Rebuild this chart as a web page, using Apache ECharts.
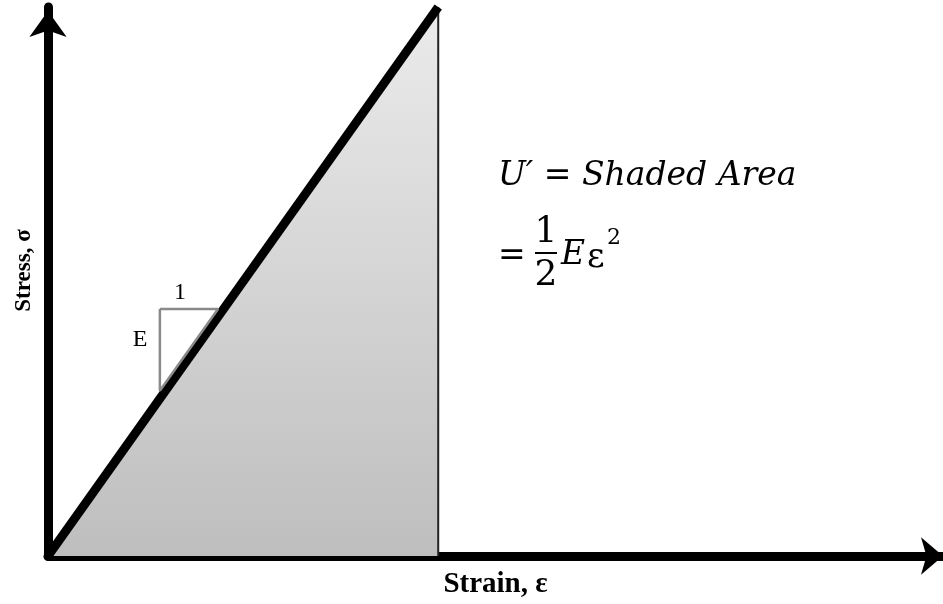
<!DOCTYPE html>
<html>
<head>
<meta charset="utf-8">
<script src="https://cdn.jsdelivr.net/npm/echarts@6/dist/echarts.min.js"></script>
<style>
  html, body { margin: 0; padding: 0; background: #fff; }
  #main { width: 943px; height: 604px; }
</style>
</head>
<body>
<div id="main"></div>
<script>
// stress-strain line (linear elastic) and the shaded area under it
var strain = [0, 43.6];
var stress = [0, 100];
// small slope triangle "1 / E"
var slopeX = [12.5, 19.0, 12.5, 12.5];
var slopeY = [45, 45, 30.1, 45];
var axisNames = ['Strain, ε', 'Stress, σ'];

function zip(a, b) {
  var out = [];
  for (var i = 0; i < a.length; i++) out.push([a[i], b[i]]);
  return out;
}

var myChart = echarts.init(document.getElementById('main'));
var serif = '"DejaVu Serif", serif';
var times = '"Liberation Serif", "Times New Roman", serif';

var option = {
  animation: false,
  backgroundColor: '#fff',
  grid: { left: 48, right: 0, top: 7, bottom: 48 },
  xAxis: {
    type: 'value', min: 0, max: 100,
    name: axisNames[0], nameLocation: 'middle', nameGap: 14,
    nameTextStyle: { fontFamily: times, fontWeight: 'bold', fontSize: 29, color: '#000' },
    axisLine: {
      onZero: false, symbol: ['none', 'arrow'], symbolSize: [28, 22],
      lineStyle: { color: '#000', width: 9 }
    },
    axisTick: { show: false }, axisLabel: { show: false }, splitLine: { show: false }
  },
  yAxis: {
    type: 'value', min: 0, max: 100,
    name: axisNames[1], nameLocation: 'middle', nameGap: 12,
    nameTextStyle: { fontFamily: times, fontWeight: 'bold', fontSize: 23, color: '#000', padding: [0, 0, 0, 22] },
    axisLine: {
      onZero: false, symbol: ['none', 'arrow'], symbolSize: [28, 26], symbolOffset: [0, -4],
      lineStyle: { color: '#000', width: 9 }
    },
    axisTick: { show: false }, axisLabel: { show: false }, splitLine: { show: false }
  },
  series: [
    {
      type: 'line', data: zip(strain, stress), symbol: 'none', z: 1,
      lineStyle: { width: 0 },
      areaStyle: {
        opacity: 1,
        color: new echarts.graphic.LinearGradient(0, 0, 0, 1, [
          { offset: 0, color: '#ebebeb' },
          { offset: 1, color: '#bebebe' }
        ])
      }
    },
    {
      type: 'line', data: [[strain[1], 0], [strain[1], stress[1]]], symbol: 'none', z: 2,
      lineStyle: { color: '#222', width: 2 }
    },
    {
      type: 'line', data: zip(strain, stress), symbol: 'none', z: 3,
      lineStyle: { color: '#000', width: 9 }
    },
    {
      type: 'line', data: zip(slopeX, slopeY), symbol: 'none', z: 4,
      lineStyle: { color: '#8a8a8a', width: 2.5 }
    }
  ],
  graphic: [
    { type: 'text', x: 180, y: 293, style: { text: '1', font: '24px ' + times, fill: '#000', align: 'center', verticalAlign: 'middle' } },
    { type: 'text', x: 140, y: 340, style: { text: 'E', font: '24px ' + times, fill: '#000', align: 'center', verticalAlign: 'middle' } },
    { type: 'text', x: 498, y: 176, style: { text: 'U′ = Shaded Area', font: 'italic 33px ' + serif, fill: '#000', verticalAlign: 'middle' } },
    { type: 'text', x: 498, y: 256, style: { text: '=', font: '33px ' + serif, fill: '#000', verticalAlign: 'middle' } },
    { type: 'text', x: 546, y: 233, style: { text: '1', font: '36px ' + serif, fill: '#000', align: 'center', verticalAlign: 'middle' } },
    { type: 'line', shape: { x1: 535, y1: 253, x2: 557, y2: 253 }, style: { stroke: '#000', lineWidth: 2 } },
    { type: 'text', x: 546, y: 276, style: { text: '2', font: '36px ' + serif, fill: '#000', align: 'center', verticalAlign: 'middle' } },
    { type: 'text', x: 561, y: 255, style: { text: 'E', font: 'italic 33px ' + serif, fill: '#000', verticalAlign: 'middle' } },
    { type: 'text', x: 587, y: 258, style: { text: 'ε', font: '34px ' + serif, fill: '#000', verticalAlign: 'middle' } },
    { type: 'text', x: 607, y: 238, style: { text: '2', font: '22px ' + serif, fill: '#000', verticalAlign: 'middle' } }
  ]
};
myChart.setOption(option);
</script>
</body>
</html>
